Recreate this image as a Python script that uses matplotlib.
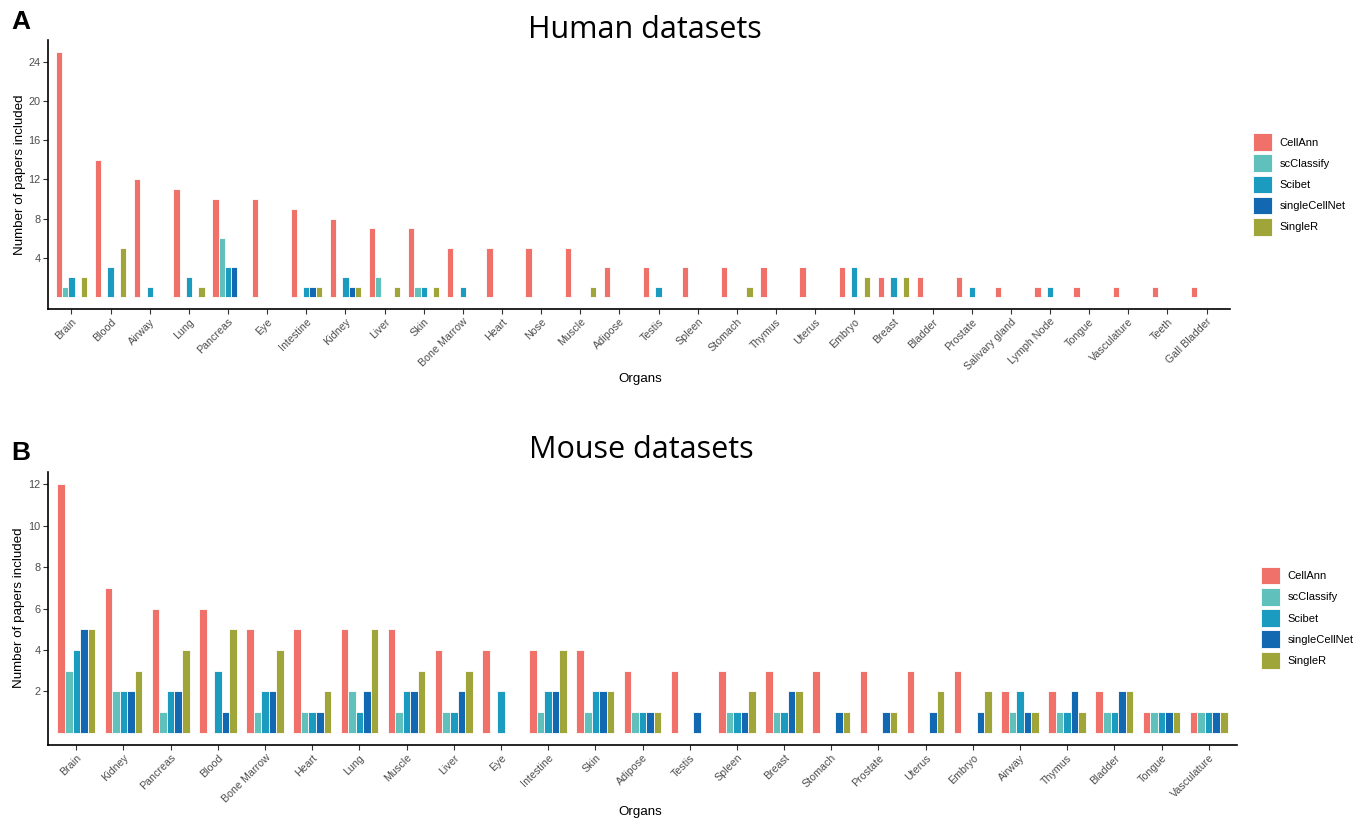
import matplotlib
matplotlib.use("Agg")
import matplotlib.pyplot as plt
import numpy as np
from matplotlib.patches import Patch

plt.rcParams['font.family'] = ['Liberation Sans', 'DejaVu Sans']

methods = ["CellAnn", "scClassify", "Scibet", "singleCellNet", "SingleR"]
colors = ["#F0706A", "#60C0BB", "#1C9BC1", "#1269B2", "#A0A53A"]

human_organs = ["Brain", "Blood", "Airway", "Lung", "Pancreas", "Eye", "Intestine",
                "Kidney", "Liver", "Skin", "Bone Marrow", "Heart", "Nose", "Muscle",
                "Adipose", "Testis", "Spleen", "Stomach", "Thymus", "Uterus", "Embryo",
                "Breast", "Bladder", "Prostate", "Salivary gland", "Lymph Node",
                "Tongue", "Vasculature", "Teeth", "Gall Bladder"]
human_cellann = [25, 14, 12, 11, 10, 10, 9, 8, 7, 7, 5, 5, 5, 5, 3, 3, 3, 3, 3, 3,
                 3, 2, 2, 2, 1, 1, 1, 1, 1, 1]
human_scclassify = [1, 0, 0, 0, 6, 0, 0, 0, 2, 1, 0, 0, 0, 0, 0, 0, 0, 0, 0, 0,
                    0, 0, 0, 0, 0, 0, 0, 0, 0, 0]
human_scibet = [2, 3, 1, 2, 3, 0, 1, 2, 0, 1, 1, 0, 0, 0, 0, 1, 0, 0, 0, 0,
                3, 2, 0, 1, 0, 1, 0, 0, 0, 0]
human_singlecellnet = [0, 0, 0, 0, 3, 0, 1, 1, 0, 0, 0, 0, 0, 0, 0, 0, 0, 0, 0, 0,
                       0, 0, 0, 0, 0, 0, 0, 0, 0, 0]
human_singler = [2, 5, 0, 1, 0, 0, 1, 1, 1, 1, 0, 0, 0, 1, 0, 0, 0, 1, 0, 0,
                 2, 2, 0, 0, 0, 0, 0, 0, 0, 0]

mouse_organs = ["Brain", "Kidney", "Pancreas", "Blood", "Bone Marrow", "Heart", "Lung",
                "Muscle", "Liver", "Eye", "Intestine", "Skin", "Adipose", "Testis",
                "Spleen", "Breast", "Stomach", "Prostate", "Uterus", "Embryo", "Airway",
                "Thymus", "Bladder", "Tongue", "Vasculature"]
mouse_cellann = [12, 7, 6, 6, 5, 5, 5, 5, 4, 4, 4, 4, 3, 3, 3, 3, 3, 3, 3, 3, 2, 2, 2, 1, 1]
mouse_scclassify = [3, 2, 1, 0, 1, 1, 2, 1, 1, 0, 1, 1, 1, 0, 1, 1, 0, 0, 0, 0, 1, 1, 1, 1, 1]
mouse_scibet = [4, 2, 2, 3, 2, 1, 1, 2, 1, 2, 2, 2, 1, 0, 1, 1, 0, 0, 0, 0, 2, 1, 1, 1, 1]
mouse_singlecellnet = [5, 2, 2, 1, 2, 1, 2, 2, 2, 0, 2, 2, 1, 1, 1, 2, 1, 1, 1, 1, 1, 2, 2, 1, 1]
mouse_singler = [5, 3, 4, 5, 4, 2, 5, 3, 3, 0, 4, 2, 1, 0, 2, 2, 1, 1, 2, 2, 1, 1, 2, 1, 1]

human_yticks = [4, 8, 12, 16, 20, 24]
mouse_yticks = [2, 4, 6, 8, 10, 12]

W, H = 1354, 821
fig = plt.figure(figsize=(W / 100, H / 100), dpi=100)


def fx(px):
    return px / W


def fy(py):
    return 1 - py / H


def draw_panel(rect, organs, series, yticks, ylim, legend_xy):
    ax = fig.add_axes(rect)
    n = len(organs)
    x = np.arange(n)
    bw = 0.16
    for j, (vals, c, m) in enumerate(zip(series, colors, methods)):
        vals = np.asarray(vals, dtype=float)
        mask = vals > 0
        ax.bar(x[mask] + (j - 2) * bw, vals[mask], width=bw, color=c,
               edgecolor="white", linewidth=0.6, label=m)
    ax.set_xlim(-0.6, n - 1 + 0.6)
    ax.set_ylim(*ylim)
    ax.set_xticks(x)
    ax.set_xticklabels(organs, rotation=45, ha="right", va="top",
                       rotation_mode="anchor", fontsize=7.7, color="#4D4D4D")
    ax.set_yticks(yticks)
    ax.set_yticklabels([str(t) for t in yticks], fontsize=7.9, color="#4D4D4D")
    ax.tick_params(axis="both", length=3.5, width=0.8, color="#333333", pad=2)
    for s in ["top", "right"]:
        ax.spines[s].set_visible(False)
    for s in ["left", "bottom"]:
        ax.spines[s].set_linewidth(1.2)
        ax.spines[s].set_color("black")
    handles = [Patch(facecolor=c, edgecolor="white", linewidth=0.6) for c in colors]
    ax.legend(handles, methods, loc="center left", bbox_to_anchor=legend_xy,
              frameon=False, fontsize=8, handlelength=1.7, handleheight=2.05,
              handletextpad=0.7, labelspacing=0.33, borderpad=0, borderaxespad=0)
    return ax


# Human panel
axA = draw_panel([fx(48), fy(309), fx(1230 - 48), (309 - 40) / H],
                 human_organs,
                 [human_cellann, human_scclassify, human_scibet,
                  human_singlecellnet, human_singler],
                 human_yticks, (-1.25, 26.25), (1.0195, 0.463))

# Mouse panel
axB = draw_panel([fx(48), fy(745), fx(1237 - 48), (745 - 472) / H],
                 mouse_organs,
                 [mouse_cellann, mouse_scclassify, mouse_scibet,
                  mouse_singlecellnet, mouse_singler],
                 mouse_yticks, (-0.6, 12.6), (1.020, 0.465))

# Titles, axis labels, panel letters
fig.text(fx(645), fy(30), "Human datasets", ha="center", va="center",
         fontsize=22, family=["Open Sans", "DejaVu Sans"])
fig.text(fx(641), fy(450), "Mouse datasets", ha="center", va="center",
         fontsize=22, family=["Open Sans", "DejaVu Sans"])
fig.text(fx(640), fy(379), "Organs", ha="center", va="center", fontsize=9.6)
fig.text(fx(640), fy(812), "Organs", ha="center", va="center", fontsize=9.6)
fig.text(fx(20), fy(175), "Number of papers included", ha="center", va="center",
         rotation=90, fontsize=9.6)
fig.text(fx(19), fy(608), "Number of papers included", ha="center", va="center",
         rotation=90, fontsize=9.6)
fig.text(fx(21), fy(22), "A", ha="center", va="center", fontsize=19, fontweight="bold")
fig.text(fx(21), fy(453), "B", ha="center", va="center", fontsize=19, fontweight="bold")

fig.savefig("out.png", dpi=100)
